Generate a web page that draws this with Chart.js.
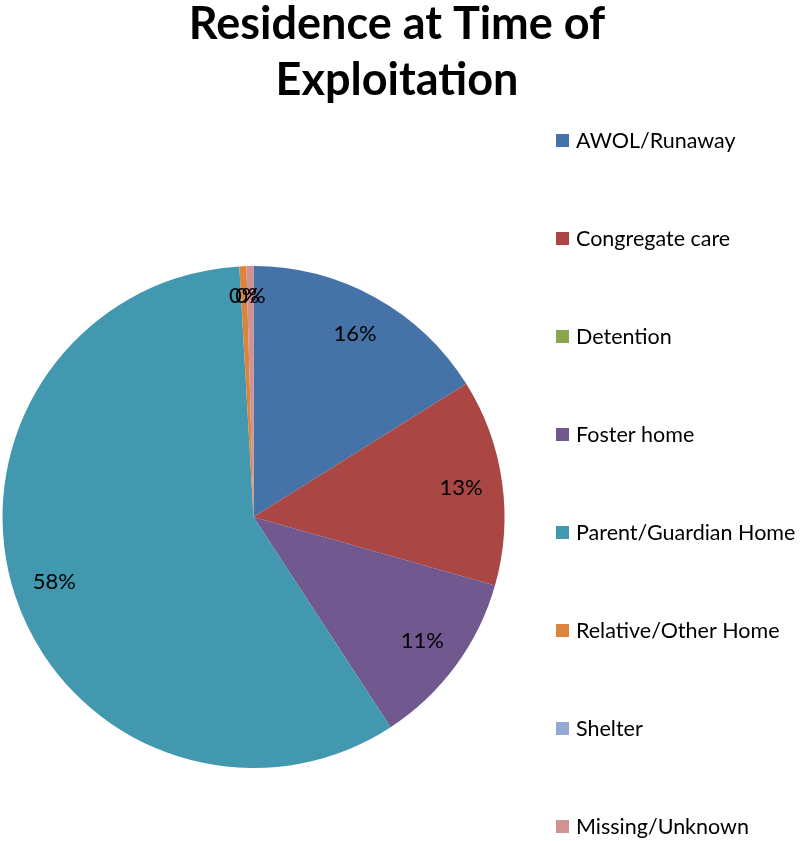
<!DOCTYPE html>
<html>
<head>
<meta charset="utf-8">
<script src="https://cdn.jsdelivr.net/npm/chart.js@4/dist/chart.umd.min.js"></script>
<style>
  html, body { margin: 0; padding: 0; background: #fff; }
  #wrap { width: 805px; height: 841px; position: relative; }
</style>
</head>
<body>
<div id="wrap"><canvas id="grafico"></canvas></div>
<script>
// =====================================================
// DATA
// =====================================================
const titulo = ["Residence at Time of", "Exploitation"];
const categorias = [
  "AWOL/Runaway",
  "Congregate care",
  "Detention",
  "Foster home",
  "Parent/Guardian Home",
  "Relative/Other Home",
  "Shelter",
  "Missing/Unknown"
];
const valores = [16.1, 13.3, 0, 11.4, 58.3, 0.45, 0, 0.45];
const cores = ["#4572A7", "#AA4643", "#89A54E", "#71588F", "#4198AF", "#DB843D", "#93A9CF", "#D19392"];

const FONTE = "Lato, 'Open Sans', sans-serif";

// =====================================================
// PLUGIN — titulo, rotulos e legenda
// =====================================================
const desenhoExtra = {
  id: "desenhoExtra",
  afterDraw(chart) {
    const ctx = chart.ctx;
    ctx.save();

    // titulo
    ctx.fillStyle = "#000";
    ctx.font = "bold 45px " + FONTE;
    ctx.textAlign = "center";
    ctx.textBaseline = "alphabetic";
    ctx.fillText(titulo[0], 397, 39);
    ctx.fillText(titulo[1], 397, 95);

    // rotulos de porcentagem
    const meta = chart.getDatasetMeta(0);
    const dados = chart.data.datasets[0].data;
    const total = dados.reduce((a, b) => a + b, 0);
    ctx.font = "22px " + FONTE;
    ctx.textBaseline = "middle";
    meta.data.forEach((arc, i) => {
      if (!dados[i]) return;
      const p = arc.getProps(["x", "y", "startAngle", "endAngle", "outerRadius"]);
      const meio = (p.startAngle + p.endAngle) / 2;
      const r = dados[i] / total < 0.02 ? p.outerRadius * 0.88 : p.outerRadius * 0.835;
      const pct = Math.round(dados[i] / total * 100) + "%";
      ctx.fillText(pct, p.x + Math.cos(meio) * r, p.y + Math.sin(meio) * r);
    });

    // legenda
    ctx.font = "21.5px " + FONTE;
    ctx.textAlign = "left";
    chart.data.labels.forEach((lab, i) => {
      const y = 140 + i * 98;
      ctx.fillStyle = cores[i];
      ctx.fillRect(556, y - 6, 13, 13);
      ctx.fillStyle = "#000";
      ctx.fillText(lab, 576, y + 1);
    });

    ctx.restore();
  }
};

// =====================================================
// GRAFICO
// =====================================================
new Chart(document.getElementById("grafico"), {
  type: "pie",
  data: {
    labels: categorias,
    datasets: [{
      data: valores,
      backgroundColor: cores,
      borderWidth: 0
    }]
  },
  options: {
    responsive: true,
    maintainAspectRatio: false,
    animation: false,
    layout: { padding: { left: 2, right: 300, top: 266, bottom: 73 } },
    plugins: {
      legend: { display: false },
      title: { display: false },
      tooltip: { enabled: false }
    }
  },
  plugins: [desenhoExtra]
});
</script>
</body>
</html>
